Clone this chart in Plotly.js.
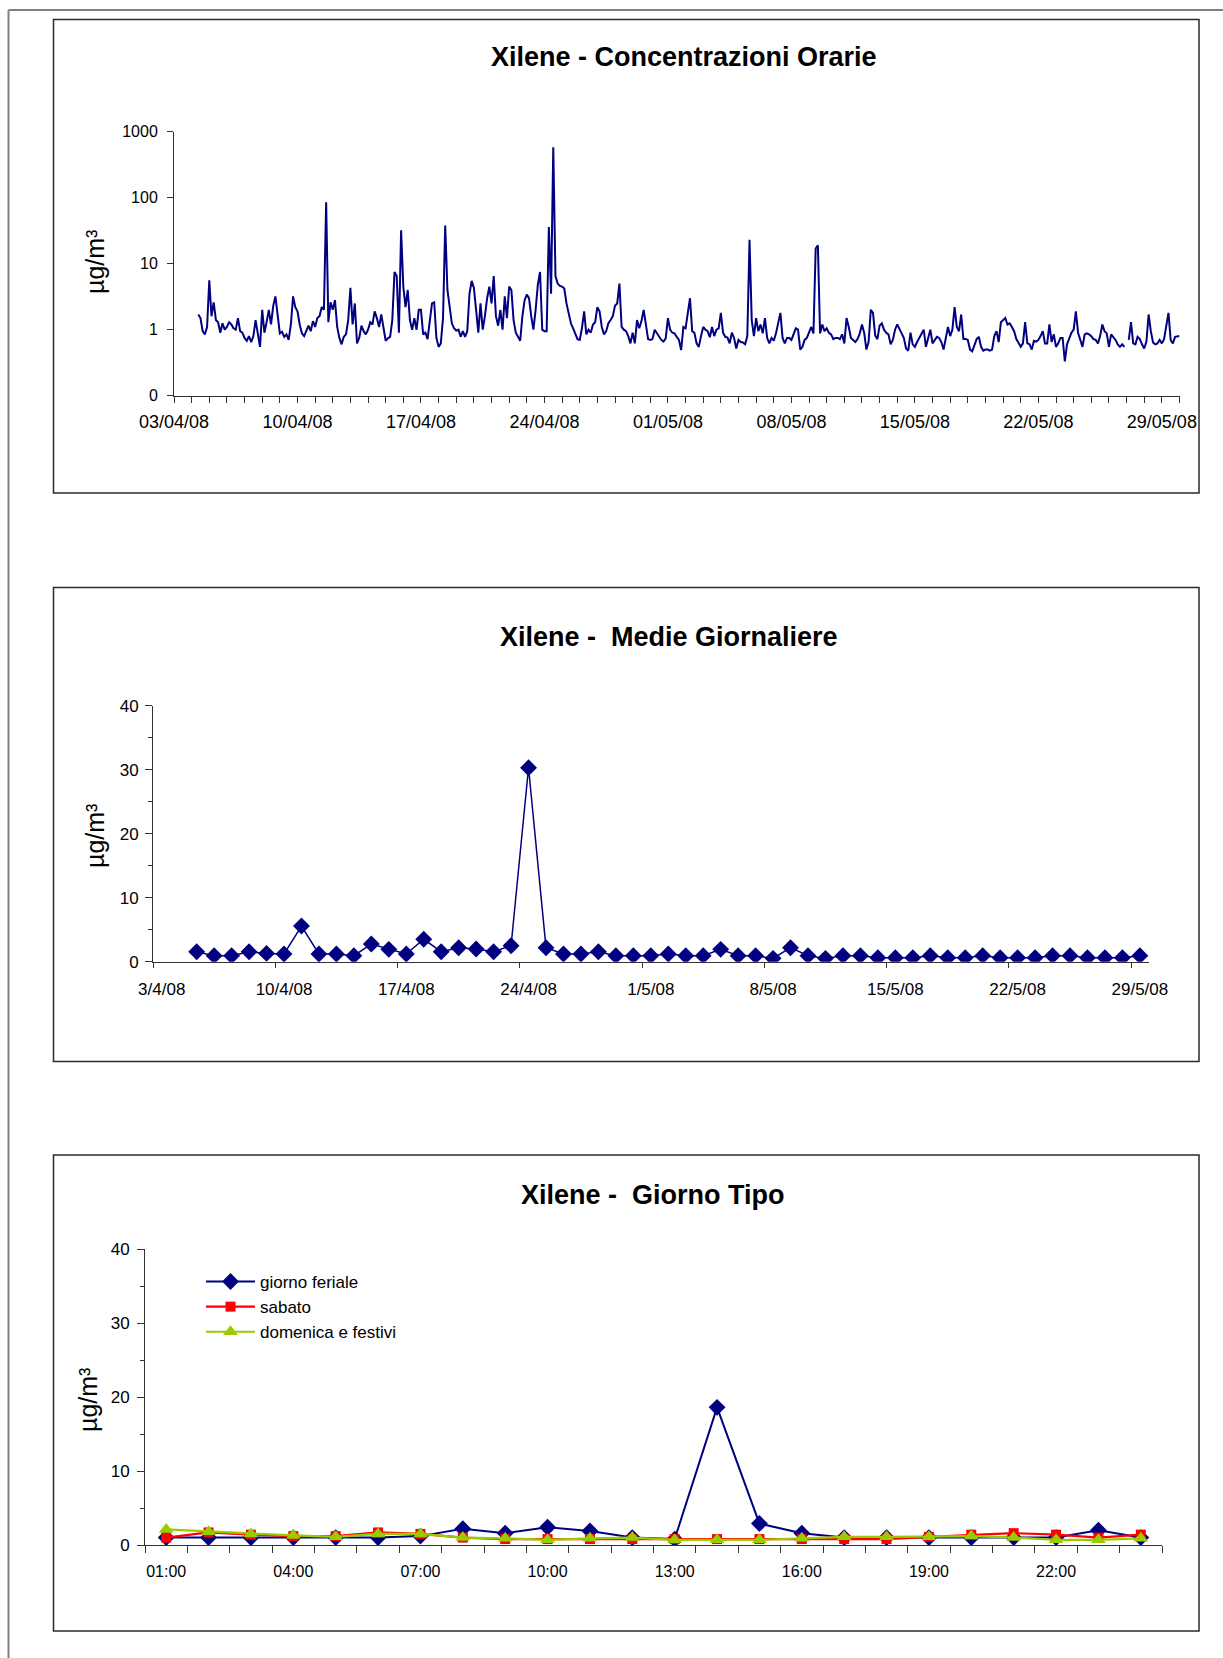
<!DOCTYPE html>
<html>
<head>
<meta charset="utf-8">
<script src="https://cdn.plot.ly/plotly-3.0.1.min.js"></script>
<style>
html,body{margin:0;padding:0;background:#ffffff;}
#chart{width:1223px;height:1658px;}
</style>
</head>
<body>
<div id="chart"></div>
<script>
// ---------------- DATA ----------------
// Chart 1: hourly concentrations (µg/m3), read every 3 hours, one array per week
// first value slot = 04/04/08 00:00, step 3 h
const week1 = [ // 04/04 - 10/04
  null,null,null,1.7,1.5,0.95,0.85,1.1,
  5.6,1.6,2.6,1.4,1.3,0.9,1.25,1.0,
  1.1,1.3,1.2,1.05,1.0,1.5,0.95,0.9,
  0.75,0.68,0.8,0.65,0.8,1.4,0.8,0.55,
  2.0,0.9,1.3,2.0,1.2,2.3,3.2,1.5,
  0.88,0.93,0.78,0.85,0.7,1.2,3.2,2.2,
  1.9,1.2,0.88,0.8,0.95,1.15,0.95,1.35];
const week2 = [ // 11/04 - 17/04
  1.1,1.5,1.6,2.2,2.0,85,1.3,2.6,
  2.0,2.8,1.1,0.75,0.6,0.78,0.85,1.4,
  4.3,1.2,2.5,0.62,0.75,1.15,0.95,0.85,
  1.0,1.3,1.2,1.9,1.5,1.1,1.7,1.1,
  0.68,0.74,0.78,1.4,7.5,6.5,0.9,32,
  4.5,2.2,4.0,1.4,1.0,1.5,1.0,2.0,
  2.0,0.85,0.9,0.72,1.3,2.5,2.6,0.75];
const week3 = [ // 18/04 - 24/04
  0.55,0.62,1.5,38,4.0,2.2,1.25,1.05,
  0.97,1.0,0.78,0.95,0.78,0.95,3.5,5.5,
  4.3,2.0,0.9,2.5,1.0,1.6,3.0,4.5,
  2.5,6.5,1.6,1.15,2.0,1.0,3.2,1.5,
  4.5,4.0,1.4,0.9,0.8,0.68,1.6,2.8,
  3.4,3.0,1.6,1.0,2.0,4.8,7.5,1.0,
  0.95,0.95,36,3.5,580,6.5,5.0,4.6];
const week4 = [ // 25/04 - 01/05
  4.5,4.2,2.5,1.7,1.25,1.05,0.85,0.72,
  0.7,1.05,1.9,0.85,1.0,0.9,1.2,1.3,
  2.2,1.9,1.1,0.85,0.95,1.25,1.4,1.6,
  2.3,2.5,5.0,1.1,1.0,0.95,0.8,0.62,
  0.9,0.62,1.4,1.05,1.35,2.0,1.2,0.72,
  0.7,0.72,1.0,0.9,0.8,0.7,0.66,0.74,
  1.5,1.0,0.9,0.88,0.78,0.7,0.49,1.1];
const week5 = [ // 02/05 - 08/05
  1.05,1.9,3.0,0.95,0.9,0.62,0.55,0.8,
  1.1,1.0,0.95,0.77,1.1,0.8,1.0,1.05,
  1.8,0.9,0.78,0.76,0.62,0.9,0.75,0.52,
  0.7,0.65,0.64,0.6,0.8,23,1.4,0.8,
  1.5,0.95,1.2,0.88,1.5,0.75,0.62,0.75,
  0.68,0.88,1.2,1.8,0.75,0.62,0.75,0.75,
  0.7,0.88,1.05,1.0,0.5,0.55,0.7,0.75];
const week6 = [ // 09/05 - 15/05
  0.9,1.1,0.88,17,19,0.88,1.2,0.95,
  1.05,0.9,0.85,0.72,0.75,0.75,0.72,0.85,
  0.62,1.5,1.1,0.75,0.7,0.65,0.72,0.88,
  1.2,0.9,0.5,0.65,2.0,1.8,0.82,0.72,
  1.15,1.25,1.0,0.9,0.85,0.6,0.7,1.0,
  1.2,1.0,0.88,0.75,0.52,0.48,0.9,0.6,
  0.55,0.65,0.75,0.88,1.0,0.55,0.78,1.0];
const week7 = [ // 16/05 - 22/05
  0.62,0.7,0.78,0.75,0.65,0.5,0.7,1.1,
  0.8,1.0,2.2,1.1,0.95,1.7,0.72,0.72,
  0.7,0.5,0.47,0.6,0.72,0.78,0.55,0.48,
  0.5,0.5,0.48,0.5,0.8,0.95,0.65,1.3,
  1.4,1.5,1.2,1.25,1.1,0.95,0.72,0.62,
  0.55,0.62,1.3,0.62,0.6,0.5,0.68,0.66,
  0.7,0.8,0.95,0.62,0.62,1.2,0.65,0.85];
const week8 = [ // 23/05 - 29/05
  0.55,0.62,0.75,0.75,0.33,0.6,0.72,0.9,
  1.0,1.9,0.9,0.7,0.55,0.85,0.88,0.85,
  0.8,0.72,0.7,0.62,0.8,1.2,0.95,0.88,
  0.55,0.85,0.78,0.7,0.6,0.55,0.6,0.55,
  null,0.7,1.3,0.62,0.6,0.78,0.72,0.6,
  0.52,0.66,1.7,0.95,0.64,0.6,0.62,0.7,
  0.62,0.72,1.2,1.8,0.7,0.62,0.78,0.78];
const lastValue = [0.8]; // 30/05 00:00
const hourlyStart = '2008-04-04T00:00:00Z';
const hourlyStepHours = 3;

// Chart 2: daily means 05/04/08 .. 29/05/08
const dailyStart = '2008-04-05';
const dailyMeans = [1.56,0.94,0.94,1.56,1.3,1.2,5.57,1.2,1.2,0.94,
  2.76,1.93,1.2,3.5,1.56,2.19,1.98,1.56,2.5,30.3,
  2.19,1.2,1.2,1.56,0.94,0.94,0.94,1.2,0.94,0.94,
  1.93,0.94,0.94,0.52,2.19,0.94,0.52,0.94,0.94,0.62,
  0.62,0.62,0.94,0.62,0.62,0.94,0.62,0.62,0.62,0.94,
  0.94,0.62,0.62,0.62,0.94];

// Chart 3: typical day
const hours = ['01:00','02:00','03:00','04:00','05:00','06:00','07:00','08:00','09:00','10:00','11:00','12:00',
  '13:00','14:00','15:00','16:00','17:00','18:00','19:00','20:00','21:00','22:00','23:00','24:00'];
const hourTickLabels = ['01:00','04:00','07:00','10:00','13:00','16:00','19:00','22:00'];
const feriale  = [1.0,1.0,1.0,1.0,1.0,1.0,1.2,2.2,1.6,2.4,1.9,1.0,0.8,18.6,2.9,1.6,1.0,1.0,1.0,1.0,1.0,1.0,2.0,1.0];
const sabato   = [1.0,1.7,1.4,1.2,1.2,1.7,1.5,1.0,0.8,0.8,0.8,0.8,0.8,0.8,0.8,0.8,0.8,0.8,1.1,1.4,1.6,1.4,1.0,1.4];
const domenica = [2.1,1.8,1.5,1.3,1.1,1.5,1.5,1.0,0.9,0.7,0.9,1.0,0.7,0.7,0.7,0.9,1.1,1.1,1.1,1.2,1.0,0.7,0.7,0.9];

const unitLabel = 'µg/m³';

// ---------------- BUILD ----------------
const W = 1223, H = 1658;
const PX = p => p / W;          // page px -> paper x
const PY = p => 1 - p / H;      // page px -> paper y
const DAY = 86400000;
const FONT = 'Liberation Sans, Arial, sans-serif';

function fmt(ms){
  const d = new Date(ms);
  const p = n => String(n).padStart(2,'0');
  return d.getUTCFullYear()+'-'+p(d.getUTCMonth()+1)+'-'+p(d.getUTCDate())+' '+p(d.getUTCHours())+':'+p(d.getUTCMinutes());
}

const hourlyY = [].concat(week1,week2,week3,week4,week5,week6,week7,week8,lastValue);
const t0 = Date.parse(hourlyStart);
const hourlyX = hourlyY.map((_,i)=>fmt(t0 + i*hourlyStepHours*3600000));

const d0 = Date.parse(dailyStart+'T12:00:00Z');   // each day's point sits mid-interval
const dailyX = dailyMeans.map((_,i)=>fmt(d0 + i*DAY));

const hourIdx = hours.map((_,i)=>i+1);
const hourTickVals = hourTickLabels.map(l=>hours.indexOf(l)+1);

const NAVY = '#000080', RED = '#FF0000', LIME = '#99CC00';

const traces = [
  {x:hourlyX, y:hourlyY, xaxis:'x', yaxis:'y', type:'scatter', mode:'lines',
   line:{color:NAVY, width:2}, connectgaps:false, showlegend:false, hoverinfo:'skip'},
  {x:dailyX, y:dailyMeans, xaxis:'x2', yaxis:'y2', type:'scatter', mode:'lines+markers',
   line:{color:NAVY, width:1.5}, marker:{symbol:'diamond', size:13, color:NAVY}, showlegend:false},
  {x:hourIdx, y:feriale, xaxis:'x3', yaxis:'y3', type:'scatter', mode:'lines+markers', name:'giorno feriale',
   legendgroup:'a', line:{color:NAVY, width:2}, marker:{symbol:'diamond', size:13, color:NAVY}},
  {x:hourIdx, y:sabato, xaxis:'x3', yaxis:'y3', type:'scatter', mode:'lines+markers', name:'sabato',
   legendgroup:'b', line:{color:RED, width:2.2}, marker:{symbol:'square', size:10, color:RED}},
  {x:hourIdx, y:domenica, xaxis:'x3', yaxis:'y3', type:'scatter', mode:'lines+markers', name:'domenica e festivi',
   legendgroup:'c', line:{color:LIME, width:2.2}, marker:{symbol:'triangle-up', size:13, color:LIME}}
];

const tf = s => ({family:FONT, size:s, color:'#000'});
const base = {showline:true, linecolor:'#333', linewidth:1, showgrid:false, zeroline:false,
  ticks:'outside', tickcolor:'#333', tickwidth:1, fixedrange:true, tickfont:tf(17)};
const minorY = {dtick:5, ticks:'outside', ticklen:4, tickcolor:'#333', tickwidth:1, showgrid:false};

const layout = {
  width:W, height:H, margin:{l:0,r:0,t:0,b:0},
  paper_bgcolor:'#ffffff', plot_bgcolor:'rgba(0,0,0,0)',
  font:{family:FONT, color:'#000'},
  xaxis:Object.assign({}, base, {anchor:'y', type:'date', domain:[PX(174),PX(1179.5)],
    range:['2008-04-03','2008-05-30'], tick0:'2008-04-03', dtick:7*DAY, tickformat:'%d/%m/%y', ticklen:6,
    tickfont:tf(18), ticklabelstandoff:4,
    minor:{tick0:'2008-04-03', dtick:DAY, ticks:'outside', ticklen:6, tickcolor:'#333', tickwidth:1, showgrid:false}}),
  yaxis:Object.assign({}, base, {anchor:'x', type:'log', domain:[PY(395.7),PY(131.7)], range:[-1,3],
    tickmode:'array', tickvals:[0.1,1,10,100,1000], ticktext:['0','1','10','100','1000'], ticklen:6,
    tickfont:tf(16), ticklabelstandoff:6}),
  xaxis2:Object.assign({}, base, {anchor:'y2', type:'date', domain:[PX(153),PX(1148.6)],
    range:['2008-04-03','2008-05-30'], tick0:'2008-04-03 12:00', dtick:7*DAY, tickformat:'%-d/%-m/%y',
    ticks:'', ticklabelstandoff:12,
    minor:{tick0:'2008-04-03', dtick:7*DAY, ticks:'outside', ticklen:5, tickcolor:'#333', tickwidth:1, showgrid:false}}),
  yaxis2:Object.assign({}, base, {anchor:'x2', domain:[PY(961.7),PY(705.7)], range:[0,40], tick0:0, dtick:10,
    ticklen:7, ticklabelstandoff:3, minor:minorY}),
  xaxis3:Object.assign({}, base, {anchor:'y3', domain:[PX(145),PX(1162)], range:[0.5,24.5],
    tickmode:'array', tickvals:hourTickVals, ticktext:hourTickLabels, ticks:'', ticklabelstandoff:12,
    tickfont:tf(16),
    minor:{tick0:0.5, dtick:1, ticks:'outside', ticklen:7, tickcolor:'#333', tickwidth:1, showgrid:false}}),
  yaxis3:Object.assign({}, base, {anchor:'x3', domain:[PY(1545),PY(1249)], range:[0,40], tick0:0, dtick:10,
    ticklen:7, ticklabelstandoff:4, minor:minorY}),
  showlegend:true,
  legend:{x:PX(201), y:PY(1264), xanchor:'left', yanchor:'top', bgcolor:'rgba(0,0,0,0)',
    font:tf(17), tracegroupgap:4, itemwidth:49, traceorder:'normal'},
  shapes:[
    {type:'line', xref:'paper', yref:'paper', x0:PX(8.5), x1:PX(8.5), y0:PY(1658), y1:PY(10), line:{color:'#808080', width:2}},
    {type:'line', xref:'paper', yref:'paper', x0:PX(8.5), x1:PX(1223), y0:PY(10), y1:PY(10), line:{color:'#808080', width:2}},
    {type:'rect', xref:'paper', yref:'paper', x0:PX(53.5), x1:PX(1199), y0:PY(19.5), y1:PY(493), line:{color:'#2a2a2a', width:1.5}},
    {type:'rect', xref:'paper', yref:'paper', x0:PX(53.5), x1:PX(1199), y0:PY(587.5), y1:PY(1061.5), line:{color:'#2a2a2a', width:1.5}},
    {type:'rect', xref:'paper', yref:'paper', x0:PX(53.5), x1:PX(1199), y0:PY(1155), y1:PY(1631), line:{color:'#2a2a2a', width:1.5}}
  ],
  annotations:[
    {text:'<b>Xilene - Concentrazioni Orarie</b>', xref:'paper', yref:'paper', x:PX(684), y:PY(57), xanchor:'center', yanchor:'middle', showarrow:false, font:tf(27)},
    {text:'<b>Xilene -\u00a0 Medie Giornaliere</b>', xref:'paper', yref:'paper', x:PX(669), y:PY(637), xanchor:'center', yanchor:'middle', showarrow:false, font:tf(27)},
    {text:'<b>Xilene -\u00a0 Giorno Tipo</b>', xref:'paper', yref:'paper', x:PX(653), y:PY(1195), xanchor:'center', yanchor:'middle', showarrow:false, font:tf(27)},
    {text:unitLabel, textangle:-90, xref:'paper', yref:'paper', x:PX(95), y:PY(262), xanchor:'center', yanchor:'middle', showarrow:false, font:tf(25)},
    {text:unitLabel, textangle:-90, xref:'paper', yref:'paper', x:PX(95), y:PY(836), xanchor:'center', yanchor:'middle', showarrow:false, font:tf(25)},
    {text:unitLabel, textangle:-90, xref:'paper', yref:'paper', x:PX(88), y:PY(1400), xanchor:'center', yanchor:'middle', showarrow:false, font:tf(25)}
  ]
};

Plotly.newPlot('chart', traces, layout, {staticPlot:true, displayModeBar:false});
</script>
</body>
</html>
